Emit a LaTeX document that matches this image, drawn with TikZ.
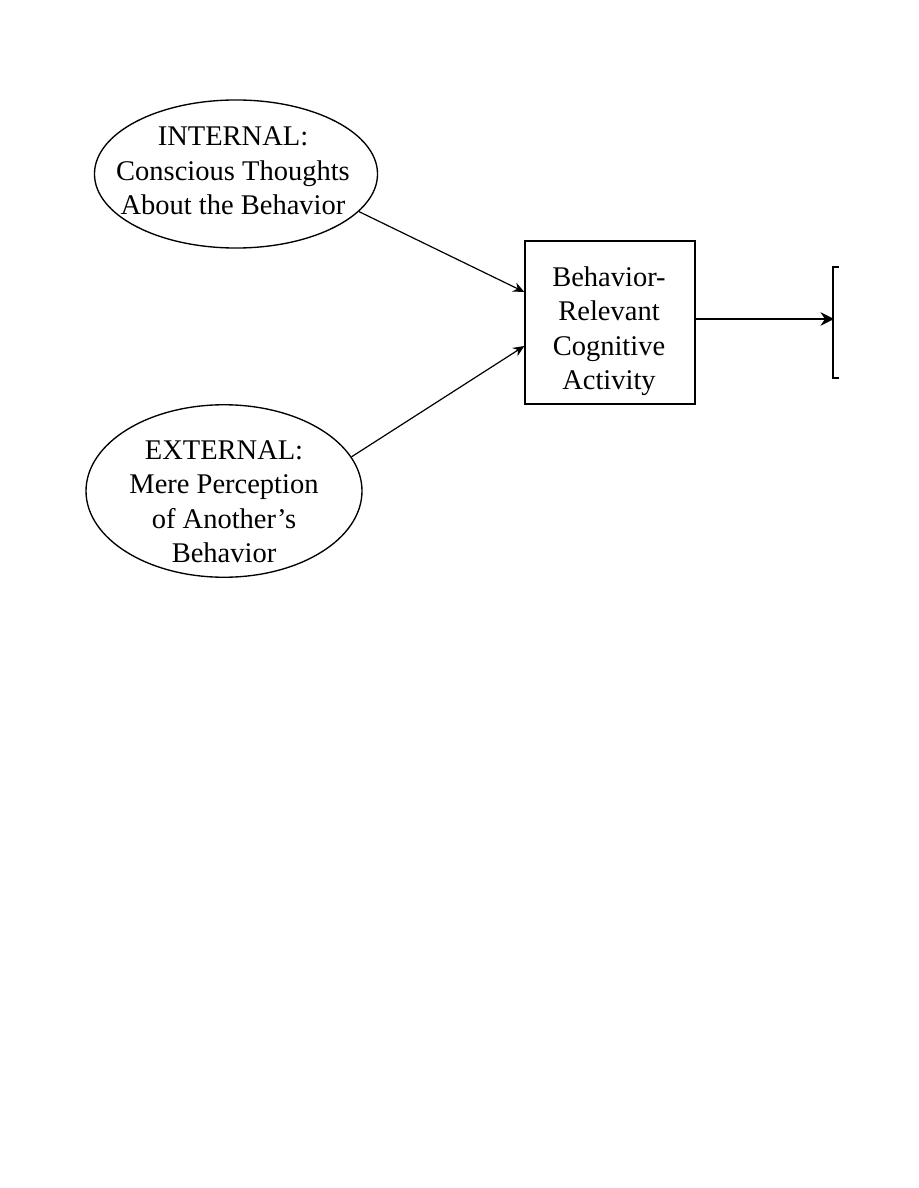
\documentclass[tikz,border=0pt]{standalone}
\usepackage{fontspec}
\setmainfont{Liberation Serif}
\usepackage{tikz}
\usetikzlibrary{positioning,arrows.meta,calc,shapes.geometric}

\begin{document}
\begin{tikzpicture}[x=0.6667pt,y=0.6667pt]
    \useasboundingbox (0,0) rectangle (918,-1188);
    \tikzset{txt/.style={align=center,font=\fontsize{19}{23}\selectfont,inner sep=0pt},
             frame/.style={draw,line width=0.9pt,inner sep=0pt}}
    % shapes
    \node[ellipse,frame,minimum width=188.7pt,minimum height=98.7pt] (internal) at (236,-174) {};
    \node[ellipse,frame,minimum width=184pt,minimum height=115pt] (external) at (224,-491) {};
    \node[frame,minimum width=113.3pt,minimum height=108.7pt] (cognition) at (610,-322.5) {};
    % texts
    \node[txt] (internalText) at (233,-171) {INTERNAL:\\Conscious Thoughts\\About the Behavior};
    \node[txt] (externalText) at (224,-501.5) {EXTERNAL:\\Mere Perception\\of Another's\\Behavior};
    \node[txt] (cognitionText) at (609,-331) {Behavior-\\Relevant\\Cognitive\\Activity};
    \coordinate (inTop) at ($(cognition.west)+(0,30.5)$);
    \coordinate (inBot) at ($(cognition.west)+(0,-23.5)$);
    \coordinate (bracket) at (834,-319);
    \draw[-{Stealth[length=7.5pt,width=6.5pt,inset=2.5pt]},line width=0.8pt] (internal.-17)--(inTop);
    \draw[-{Stealth[length=7.5pt,width=6.5pt,inset=2.5pt]},line width=0.8pt] (external.15)--(inBot);
    \draw[-{Stealth[length=9pt,width=9pt,inset=3pt]},line width=1.8pt] (cognition.east|-bracket)--(bracket);
    \draw[line width=1pt] ($(bracket)+(5,52)$) -| ($(bracket)+(-1,-59)$) -- ++(6,0);
  \end{tikzpicture}
\end{document}
